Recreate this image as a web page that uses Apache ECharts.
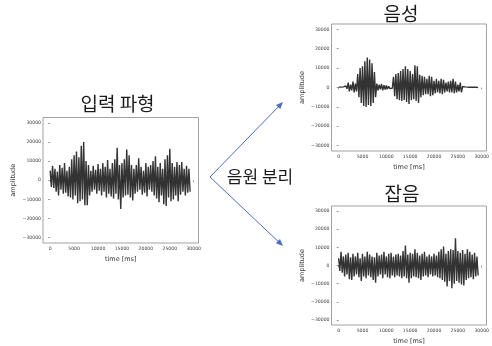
<!DOCTYPE html>
<html>
<head>
<meta charset="utf-8">
<script src="https://cdn.jsdelivr.net/npm/echarts@6/dist/echarts.min.js"></script>
<style>
  html, body { margin: 0; padding: 0; background: #fff; }
  #chart { width: 492px; height: 346px; }
</style>
</head>
<body>
<div id="chart"></div>
<script>
// sample times (ms), one upper and one lower excursion per step
const timesMs = [0, 500, 1000, 1500, 2000, 2500, 3000, 3500, 4000, 4500, 5000, 5500, 6000, 6500, 7000, 7500,
  8000, 8500, 9000, 9500, 10000, 10500, 11000, 11500, 12000, 12500, 13000, 13500, 14000, 14500, 15000, 15500,
  16000, 16500, 17000, 17500, 18000, 18500, 19000, 19500, 20000, 20500, 21000, 21500, 22000, 22500, 23000, 23500,
  24000, 24500, 25000, 25500, 26000, 26500, 27000, 27500, 28000, 28500, 29000]

// 입력 파형 (mixture)
const mixHigh = [5000, 7500, 6000, 4500, 8000, 6500, 9000, 5000, 7000, 11000, 13000, 15000, 12000, 18000, 20000, 10000,
  8000, 5000, 7500, 5500, 8500, 6000, 9000, 7000, 10500, 6000, 9000, 11000, 17000, 8000, 9000, 11000,
  16000, 13000, 8000, 6000, 8000, 11500, 7000, 5000, 9000, 7000, 8000, 10000, 12500, 7000, 9000, 6000,
  11000, 13000, 16500, 9000, 7000, 9500, 8000, 9500, 6000, 7500, 6000]
const mixLow = [-3500, -4000, -6000, -8000, -5000, -7000, -6500, -8500, -9000, -10000, -8000, -12000, -11000, -10000, -13000, -13000,
  -8000, -6000, -5000, -7000, -5500, -8000, -6000, -9000, -7000, -8500, -9500, -7000, -10000, -15000, -9000, -8000,
  -7500, -9000, -10500, -7000, -6000, -5000, -7500, -6500, -8500, -5000, -6000, -8000, -9500, -11500, -8000, -12500,
  -13500, -9000, -11000, -10000, -8000, -11000, -7500, -6000, -8000, -6500, -6000]

// 음성 (speech)
const speechHigh = [200, 200, 300, 800, 2500, 1500, 3000, 2000, 7000, 10000, 11000, 13500, 15500, 14500, 12500, 8000,
  2000, 1500, 1800, 1200, 1000, 600, 500, 5500, 7000, 7500, 8500, 9500, 11000, 9500, 8500, 7000,
  11500, 11000, 6500, 6000, 5500, 4500, 6000, 5500, 3500, 4500, 3500, 4500, 4000, 2500, 3000, 3500,
  4500, 3000, 1500, 2500, 500, 300, 200, 150, 100, 100, 100]
const speechLow = [-200, -200, -300, -700, -2000, -1500, -2500, -2000, -5000, -8000, -9500, -10000, -9000, -9500, -8000, -5000,
  -1500, -1000, -1500, -1000, -800, -500, -400, -4500, -6000, -6500, -7000, -6500, -7500, -8500, -6500, -6000,
  -7000, -8000, -5000, -4000, -3500, -3500, -4500, -4000, -3000, -2500, -3000, -3500, -2500, -2000, -2500, -2500,
  -3000, -2500, -2000, -2500, -500, -300, -200, -150, -100, -100, -100]

// 잡음 (noise)
const noiseHigh = [4000, 7500, 5000, 6000, 7000, 4500, 6500, 5000, 7000, 4000, 6500, 5000, 7500, 6000, 5000, 4500,
  7000, 5500, 6000, 7500, 5000, 6500, 7000, 5000, 6000, 6500, 5500, 8000, 11000, 6000, 7000, 6500,
  9000, 7000, 5500, 6500, 7500, 5000, 6000, 5000, 6500, 5500, 7500, 9000, 10500, 6500, 8000, 9000,
  8500, 15000, 8000, 7000, 8500, 6500, 9000, 7500, 6000, 7000, 5000]
const noiseLow = [-3000, -4000, -6000, -5000, -7500, -8000, -6000, -5000, -6500, -8500, -6000, -7000, -5500, -6500, -8000, -9500,
  -6000, -5000, -7000, -5000, -6500, -7000, -5500, -6500, -5500, -6000, -7000, -6000, -7000, -9500, -7000, -6000,
  -6500, -7000, -8000, -6000, -5500, -6500, -5000, -6000, -5500, -6500, -7000, -8000, -9000, -11500, -8500, -12500,
  -10000, -8500, -9500, -10500, -11000, -8000, -7000, -6500, -7500, -6000, -5500]

const xTicks = [0, 5000, 10000, 15000, 20000, 25000, 30000]
const yTicks = [-30000, -20000, -10000, 0, 10000, 20000, 30000]

function wave(high, low) {
  const pts = []
  timesMs.forEach((t, i) => {
    pts.push([t, high[i]])
    pts.push([t + 250, low[i]])
  })
  return pts
}

const grids = [
  { left: 43, top: 117.5, width: 155.5, height: 125.5 },
  { left: 331.5, top: 24, width: 157, height: 127 },
  { left: 331.5, top: 206, width: 157, height: 124 }
]

const tickFont = { fontSize: 4.6, color: '#444', fontFamily: 'DejaVu Sans' }
const nameFont = { fontSize: 6.5, color: '#333', fontFamily: 'DejaVu Sans' }

const xAxes = grids.map((g, i) => ({
  type: 'value', gridIndex: i, min: -1500, max: 31000,
  name: 'time [ms]', nameLocation: 'middle', nameGap: 13, nameTextStyle: nameFont,
  axisLine: { show: false },
  axisTick: { show: true, length: 2, customValues: xTicks, lineStyle: { color: '#555', width: 0.6 } },
  axisLabel: { customValues: xTicks, margin: 3, ...tickFont,
    formatter: v => v < 0 ? '\u2212' + Math.abs(v) : String(v) },
  splitLine: { show: false }
}))

const yAxes = grids.map((g, i) => ({
  type: 'value', gridIndex: i, min: -32768, max: 32767,
  name: 'amplitude', nameLocation: 'middle', nameGap: 26, nameRotate: 90, nameTextStyle: nameFont,
  axisLine: { show: false },
  axisTick: { show: true, length: 2, customValues: yTicks, lineStyle: { color: '#555', width: 0.6 } },
  axisLabel: { customValues: yTicks, margin: 2, ...tickFont,
    formatter: v => v < 0 ? '\u2212' + Math.abs(v) : String(v) },
  splitLine: { show: false }
}))

const waves = [wave(mixHigh, mixLow), wave(speechHigh, speechLow), wave(noiseHigh, noiseLow)]

const series = waves.map((d, i) => ({
  type: 'line', xAxisIndex: i, yAxisIndex: i, data: d,
  showSymbol: false, silent: true, animation: false,
  lineStyle: { color: '#000', width: 1.4, opacity: 0.8, join: 'bevel' }
}))

const blue = '#4a6cc4'
const kr = 'Noto Sans CJK KR'

function arrowHead(x0, y0, x1, y1) {
  const a = Math.atan2(y1 - y0, x1 - x0)
  const len = 7, half = 3
  const bx = x1 - len * Math.cos(a), by = y1 - len * Math.sin(a)
  return [[x1, y1],
    [bx + half * Math.sin(a), by - half * Math.cos(a)],
    [bx - half * Math.sin(a), by + half * Math.cos(a)]]
}

const arrowFrom = [210, 177]
const arrowTo = [[283, 102], [283, 246]]

const graphic = [
  { type: 'text', x: 117.5, y: 104, style: { text: '입력 파형', fontSize: 19, fontFamily: kr, fill: '#1a1a1a', align: 'center', verticalAlign: 'middle' } },
  { type: 'text', x: 401, y: 13.5, style: { text: '음성', fontSize: 19, fontFamily: kr, fill: '#1a1a1a', align: 'center', verticalAlign: 'middle' } },
  { type: 'text', x: 402, y: 193.5, style: { text: '잡음', fontSize: 19, fontFamily: kr, fill: '#1a1a1a', align: 'center', verticalAlign: 'middle' } },
  { type: 'text', x: 260, y: 177, style: { text: '음원 분리', fontSize: 17, fontFamily: kr, fill: '#1a1a1a', align: 'center', verticalAlign: 'middle' } }
]
arrowTo.forEach(p => {
  const head = arrowHead(arrowFrom[0], arrowFrom[1], p[0], p[1])
  const a = Math.atan2(p[1] - arrowFrom[1], p[0] - arrowFrom[0])
  graphic.push({ type: 'line', shape: { x1: arrowFrom[0], y1: arrowFrom[1], x2: p[0] - 5 * Math.cos(a), y2: p[1] - 5 * Math.sin(a) },
    style: { stroke: blue, lineWidth: 1 } })
  graphic.push({ type: 'polygon', shape: { points: head }, style: { fill: blue } })
})

const chart = echarts.init(document.getElementById('chart'))
chart.setOption({
  animation: false,
  backgroundColor: '#fff',
  grid: grids.map(g => ({ ...g, show: true, borderColor: '#8a8a8a', borderWidth: 0.8, backgroundColor: 'transparent' })),
  xAxis: xAxes,
  yAxis: yAxes,
  series: series,
  graphic: graphic
})
</script>
</body>
</html>
